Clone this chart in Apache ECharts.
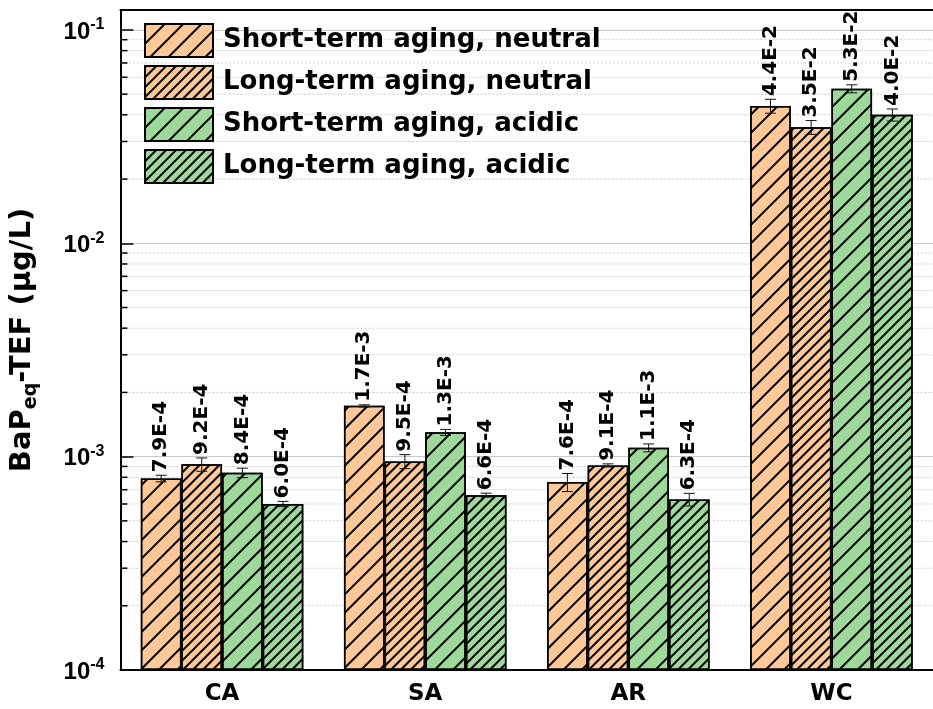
<!DOCTYPE html>
<html>
<head>
<meta charset="utf-8">
<script src="https://cdn.jsdelivr.net/npm/echarts@6/dist/echarts.min.js"></script>
<style>
html,body{margin:0;padding:0;background:#fff;}
#chart{width:933px;height:709px;}
</style>
</head>
<body>
<div id="chart"></div>
<script>
// ---- data ----
const categories = ['CA', 'SA', 'AR', 'WC'];
const seriesNames = ['Short-term aging, neutral', 'Long-term aging, neutral', 'Short-term aging, acidic', 'Long-term aging, acidic'];
const shortNeutral = [7.9e-4, 1.73e-3, 7.6e-4, 4.4e-2];
const longNeutral  = [9.2e-4, 9.5e-4, 9.1e-4, 3.5e-2];
const shortAcidic  = [8.4e-4, 1.3e-3, 1.1e-3, 5.3e-2];
const longAcidic   = [6.0e-4, 6.6e-4, 6.3e-4, 4.0e-2];
const shortNeutralErr = [2.8e-5, 2.0e-5, 7.4e-5, 3.3e-3];
const longNeutralErr  = [6.6e-5, 7.2e-5, 1.5e-5, 2.6e-3];
const shortAcidicErr  = [4.3e-5, 4.2e-5, 4.7e-5, 2.3e-3];
const longAcidicErr   = [1.7e-5, 1.4e-5, 4.3e-5, 2.6e-3];
const minorGridValues = [2e-4, 3e-4, 4e-4, 5e-4, 6e-4, 7e-4, 8e-4, 9e-4,
                         2e-3, 3e-3, 4e-3, 5e-3, 6e-3, 7e-3, 8e-3, 9e-3,
                         2e-2, 3e-2, 4e-2, 5e-2, 6e-2, 7e-2, 8e-2, 9e-2];
const yMin = 1e-4;
const yMax = 0.124;

// ---- styling ----
const ORANGE = '#FDC898';
const GREEN = '#9FD89B';
const FONT = 'DejaVu Sans';
const TICKFONT = 'Liberation Sans';

const values = [shortNeutral, longNeutral, shortAcidic, longAcidic];
const errors = [shortNeutralErr, longNeutralErr, shortAcidicErr, longAcidicErr];
const fills = [ORANGE, ORANGE, GREEN, GREEN];
const hatchGap = [11, 5, 11, 5];

function decalFor(k) {
  return {
    symbol: 'rect',
    symbolSize: 1,
    color: '#000',
    backgroundColor: null,
    dashArrayX: [1, 0],
    dashArrayY: [1.1, hatchGap[k]],
    rotation: -Math.PI / 4
  };
}

const barSeries = seriesNames.map((name, k) => ({
  name: name,
  type: 'bar',
  data: values[k],
  barGap: '0%',
  barCategoryGap: '20%',
  z: 3,
  itemStyle: {
    color: fills[k],
    borderColor: '#000',
    borderWidth: 1.5,
    decal: decalFor(k)
  }
}));

const errData = [];
for (let k = 0; k < 4; k++) {
  for (let c = 0; c < categories.length; c++) {
    errData.push([c, k, values[k][c], errors[k][c]]);
  }
}

const errorSeries = {
  type: 'custom',
  name: 'errors',
  z: 5,
  encode: { x: 0, y: 2 },
  data: errData,
  renderItem: function (params, api) {
    const c = api.value(0), k = api.value(1), v = api.value(2), e = api.value(3);
    const bw = api.size([1, 0])[0] * 0.2;
    const base = api.coord([c, v]);
    const cx = base[0] + (k - 1.5) * bw;
    const yHi = api.coord([c, v + e])[1];
    const yLo = api.coord([c, v - e])[1];
    const cap = 5.5;
    const st = { stroke: '#111', lineWidth: 1 };
    const label = v.toExponential(1).toUpperCase();
    return {
      type: 'group',
      children: [
        { type: 'line', shape: { x1: cx, y1: yHi, x2: cx, y2: yLo }, style: st },
        { type: 'line', shape: { x1: cx - cap, y1: yHi, x2: cx + cap, y2: yHi }, style: st },
        { type: 'line', shape: { x1: cx - cap, y1: yLo, x2: cx + cap, y2: yLo }, style: st },
        {
          type: 'text', x: cx, y: yHi - 3, rotation: Math.PI / 2,
          style: {
            text: label, x: 0, y: 0, align: 'left', verticalAlign: 'middle',
            fontSize: 20, fontWeight: 'bold', fontFamily: FONT, fill: '#000'
          }
        }
      ]
    };
  }
};

const minorGridSeries = {
  type: 'custom',
  name: 'minorGrid',
  z: 1,
  silent: true,
  encode: { x: 0, y: 1 },
  data: minorGridValues.map(v => [0, v]),
  renderItem: function (params, api) {
    const y = api.coord([0, api.value(1)])[1];
    const cs = params.coordSys;
    return {
      type: 'group',
      children: [
        { type: 'line', shape: { x1: cs.x, y1: y, x2: cs.x + cs.width, y2: y },
          style: { stroke: '#c8c8c8', lineWidth: 1, lineDash: [2, 2] } },
        { type: 'line', z2: 10, shape: { x1: cs.x, y1: y, x2: cs.x + 7, y2: y },
          style: { stroke: '#000', lineWidth: 1.5 } }
      ]
    };
  }
};

const chart = echarts.init(document.getElementById('chart'), null, { renderer: 'canvas' });
chart.setOption({
  animation: false,
  backgroundColor: '#fff',
  grid: { left: 120, top: 10, width: 820, height: 660 },
  legend: {
    data: seriesNames.map(n => ({ name: n, icon: 'rect' })),
    orient: 'vertical',
    left: 144,
    top: 23,
    padding: 0,
    itemWidth: 68,
    itemHeight: 33,
    itemGap: 7,
    textStyle: { fontSize: 26, fontWeight: 'bold', fontFamily: FONT, color: '#000', padding: [0, 0, 0, 5] }
  },
  xAxis: [{
    type: 'category',
    data: categories,
    axisLine: { show: true, lineStyle: { color: '#000', width: 2 } },
    axisTick: { show: false },
    axisLabel: { fontSize: 23, fontWeight: 'bold', fontFamily: FONT, color: '#000', margin: 13 },
    splitLine: { show: false }
  }, {
    type: 'category',
    position: 'top',
    data: categories,
    axisLine: { show: true, lineStyle: { color: '#000', width: 2 } },
    axisTick: { show: false },
    axisLabel: { show: false }
  }],
  yAxis: {
    type: 'log',
    logBase: 10,
    min: yMin,
    max: yMax,
    startValue: yMin,
    axisLine: { show: true, lineStyle: { color: '#000', width: 2 } },
    axisTick: { show: true, inside: true, length: 13, lineStyle: { color: '#000', width: 1.5 } },
    splitLine: { show: true, lineStyle: { color: '#c8c8c8', width: 1 } },
    axisLabel: {
      margin: 16,
      showMaxLabel: false,
      padding: [4, 0, 0, 0],
      formatter: function (v) {
        const l = Math.log10(v);
        const e = Math.round(l);
        if (Math.abs(l - e) > 1e-6) return '';
        return '{a|10}{b|' + e + '}';
      },
      rich: {
        a: { fontSize: 24, fontWeight: 'bold', fontFamily: TICKFONT, color: '#000', lineHeight: 30 },
        b: { fontSize: 16, fontWeight: 'bold', fontFamily: TICKFONT, color: '#000', lineHeight: 16, verticalAlign: 'top' }
      }
    },
    name: '{t|BaP}{s|eq}{t|-TEF (μg/L)}',
    nameLocation: 'middle',
    nameRotate: 90,
    nameGap: 80,
    nameTextStyle: {
      rich: {
        t: { fontSize: 29, fontWeight: 'bold', fontFamily: FONT, color: '#000', lineHeight: 36 },
        s: { fontSize: 19, fontWeight: 'bold', fontFamily: FONT, color: '#000', lineHeight: 16, verticalAlign: 'bottom' }
      }
    }
  },
  series: [minorGridSeries].concat(barSeries).concat([errorSeries])
});
</script>
</body>
</html>
